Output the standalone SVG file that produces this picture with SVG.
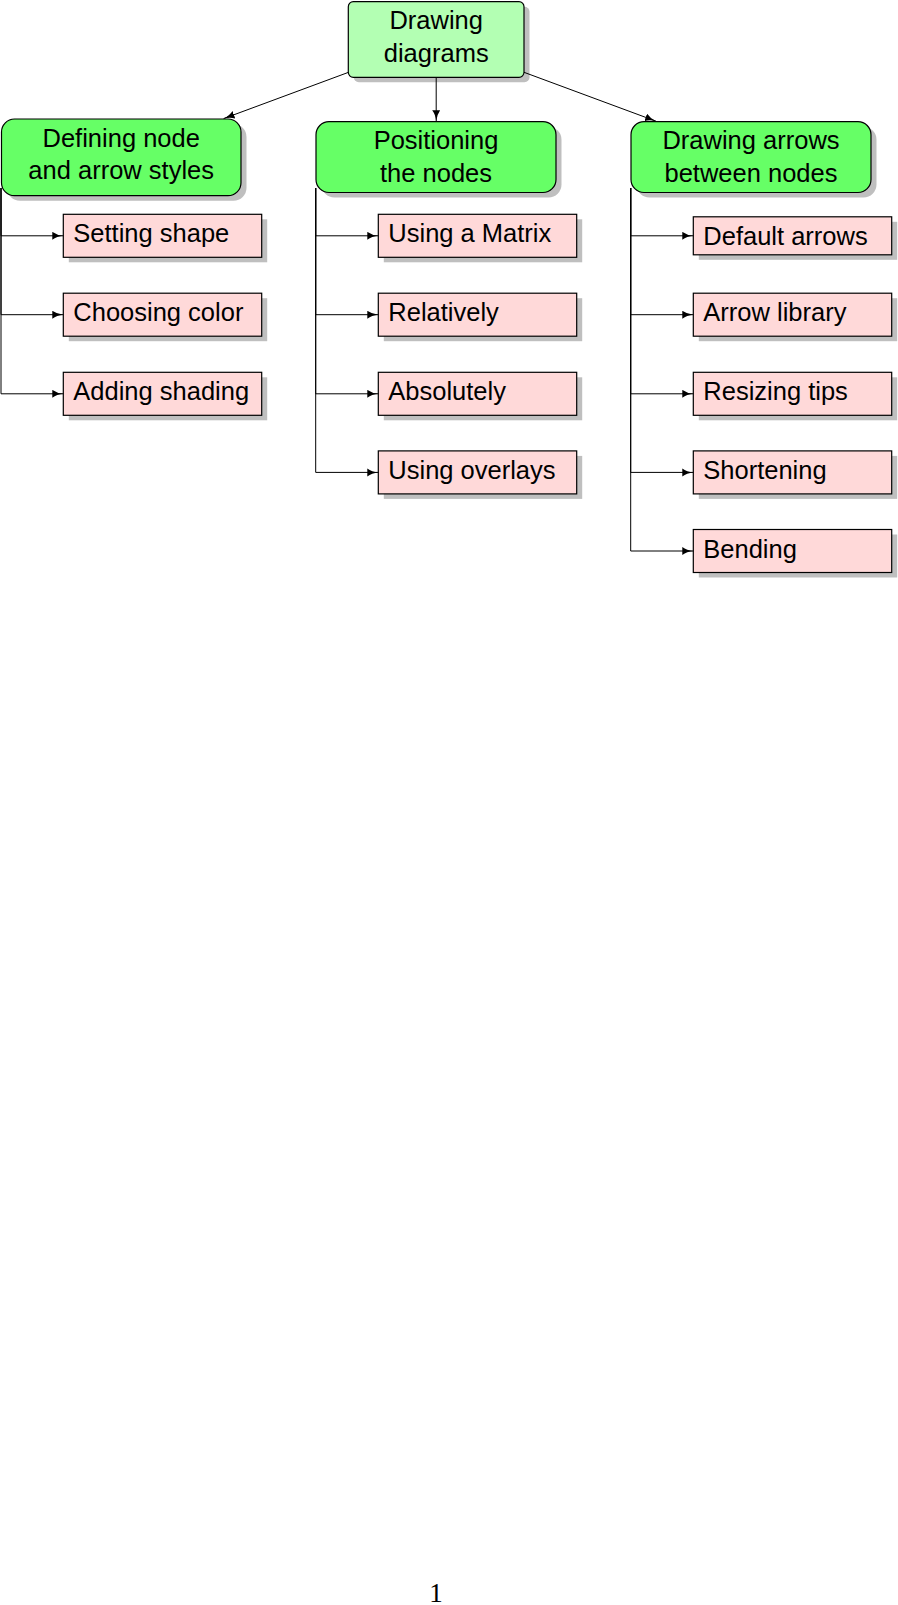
<svg xmlns="http://www.w3.org/2000/svg" width="898" height="1605" viewBox="0 0 898 1605">
<style>
.sh{fill:#bfbfbf;stroke:none}
.root{fill:#b3ffb3;stroke:#000;stroke-width:1.2}
.l1{fill:#66ff66;stroke:#000;stroke-width:1.2}
.l2{fill:#ffd9d9;stroke:#000;stroke-width:1.2}
text{font-family:"Liberation Sans",Arial,sans-serif;font-size:25.5px;fill:#000}
.c{text-anchor:middle}
.e{fill:none;stroke:#000;stroke-width:1;marker-end:url(#ah)}
.pg{font-family:"Liberation Serif","Times New Roman",serif;font-size:27px}
</style>
<defs>
<marker id="ah" markerUnits="userSpaceOnUse" markerWidth="12" markerHeight="9" refX="11" refY="4" orient="auto">
<path d="M0,0 Q4.5,3.4 11,4 Q4.5,4.6 0,8 Z" fill="#000"/>
</marker>
</defs>
<g id="root">
<rect class="sh" x="353.8" y="6.7" width="175.7" height="75.6" rx="5"/>
<rect class="root" x="348.3" y="1.7" width="175.7" height="75.6" rx="5"/>
<text class="c" x="436.2" y="29.3">Drawing</text>
<text class="c" x="436.2" y="61.7">diagrams</text>
</g>
<g id="defining">
<rect class="sh" x="7" y="124" width="239.5" height="76.7" rx="13"/>
<rect class="l1" x="1.5" y="119" width="239.5" height="76.7" rx="13"/>
<text class="c" x="121.2" y="146.7">Defining node</text>
<text class="c" x="121.2" y="179.3">and arrow styles</text>
</g>
<g id="positioning">
<rect class="sh" x="321.5" y="126.7" width="240" height="70.8" rx="13"/>
<rect class="l1" x="316" y="121.7" width="240" height="70.8" rx="13"/>
<text class="c" x="436" y="149.3">Positioning</text>
<text class="c" x="436" y="181.8">the nodes</text>
</g>
<g id="drawingarrows">
<rect class="sh" x="636.5" y="126.7" width="240" height="70.8" rx="13"/>
<rect class="l1" x="631" y="121.7" width="240" height="70.8" rx="13"/>
<text class="c" x="751" y="149.3">Drawing arrows</text>
<text class="c" x="751" y="181.8">between nodes</text>
</g>
<g id="setting">
<rect class="sh" x="68.8" y="219.3" width="198.4" height="43"/>
<rect class="l2" x="63.3" y="214.3" width="198.4" height="43"/>
<text x="73.3" y="242.3">Setting shape</text>
</g>
<g id="choosing">
<rect class="sh" x="68.8" y="298.2" width="198.4" height="43"/>
<rect class="l2" x="63.3" y="293.2" width="198.4" height="43"/>
<text x="73.3" y="321.2">Choosing color</text>
</g>
<g id="adding">
<rect class="sh" x="68.8" y="377.3" width="198.4" height="43"/>
<rect class="l2" x="63.3" y="372.3" width="198.4" height="43"/>
<text x="73.3" y="400.3">Adding shading</text>
</g>
<g id="matrix">
<rect class="sh" x="383.8" y="219.3" width="198.4" height="43"/>
<rect class="l2" x="378.3" y="214.3" width="198.4" height="43"/>
<text x="388.3" y="242.3">Using a Matrix</text>
</g>
<g id="relatively">
<rect class="sh" x="383.8" y="298.2" width="198.4" height="43"/>
<rect class="l2" x="378.3" y="293.2" width="198.4" height="43"/>
<text x="388.3" y="321.2">Relatively</text>
</g>
<g id="absolutely">
<rect class="sh" x="383.8" y="377.3" width="198.4" height="43"/>
<rect class="l2" x="378.3" y="372.3" width="198.4" height="43"/>
<text x="388.3" y="400.3">Absolutely</text>
</g>
<g id="overlays">
<rect class="sh" x="383.8" y="455.9" width="198.4" height="43"/>
<rect class="l2" x="378.3" y="450.9" width="198.4" height="43"/>
<text x="388.3" y="478.9">Using overlays</text>
</g>
<g id="default">
<rect class="sh" x="698.8" y="221.8" width="198.4" height="38"/>
<rect class="l2" x="693.3" y="216.8" width="198.4" height="38"/>
<text x="703.3" y="244.8">Default arrows</text>
</g>
<g id="library">
<rect class="sh" x="698.8" y="298.2" width="198.4" height="43"/>
<rect class="l2" x="693.3" y="293.2" width="198.4" height="43"/>
<text x="703.3" y="321.2">Arrow library</text>
</g>
<g id="resizing">
<rect class="sh" x="698.8" y="377.3" width="198.4" height="43"/>
<rect class="l2" x="693.3" y="372.3" width="198.4" height="43"/>
<text x="703.3" y="400.3">Resizing tips</text>
</g>
<g id="shortening">
<rect class="sh" x="698.8" y="455.9" width="198.4" height="43"/>
<rect class="l2" x="693.3" y="450.9" width="198.4" height="43"/>
<text x="703.3" y="478.9">Shortening</text>
</g>
<g id="bending">
<rect class="sh" x="698.8" y="534.5" width="198.4" height="43"/>
<rect class="l2" x="693.3" y="529.5" width="198.4" height="43"/>
<text x="703.3" y="557.5">Bending</text>
</g>
<g id="connectors">
<path class="e" d="M348.3,72.4 L223.6,118.6"/>
<path class="e" d="M436.2,77.3 L436.2,121.2"/>
<path class="e" d="M524,72.3 L656,121.2"/>
<path class="e" d="M1,188 V235.8 H63.3"/>
<path class="e" d="M1,188 V314.7 H63.3"/>
<path class="e" d="M1,188 V393.8 H63.3"/>
<path class="e" d="M315.7,188 V235.8 H378.3"/>
<path class="e" d="M315.7,188 V314.7 H378.3"/>
<path class="e" d="M315.7,188 V393.8 H378.3"/>
<path class="e" d="M315.7,188 V472.4 H378.3"/>
<path class="e" d="M630.7,188 V235.8 H693.3"/>
<path class="e" d="M630.7,188 V314.7 H693.3"/>
<path class="e" d="M630.7,188 V393.8 H693.3"/>
<path class="e" d="M630.7,188 V472.4 H693.3"/>
<path class="e" d="M630.7,188 V551 H693.3"/>
</g>
<text class="pg c" x="436" y="1602">1</text>
</svg>
